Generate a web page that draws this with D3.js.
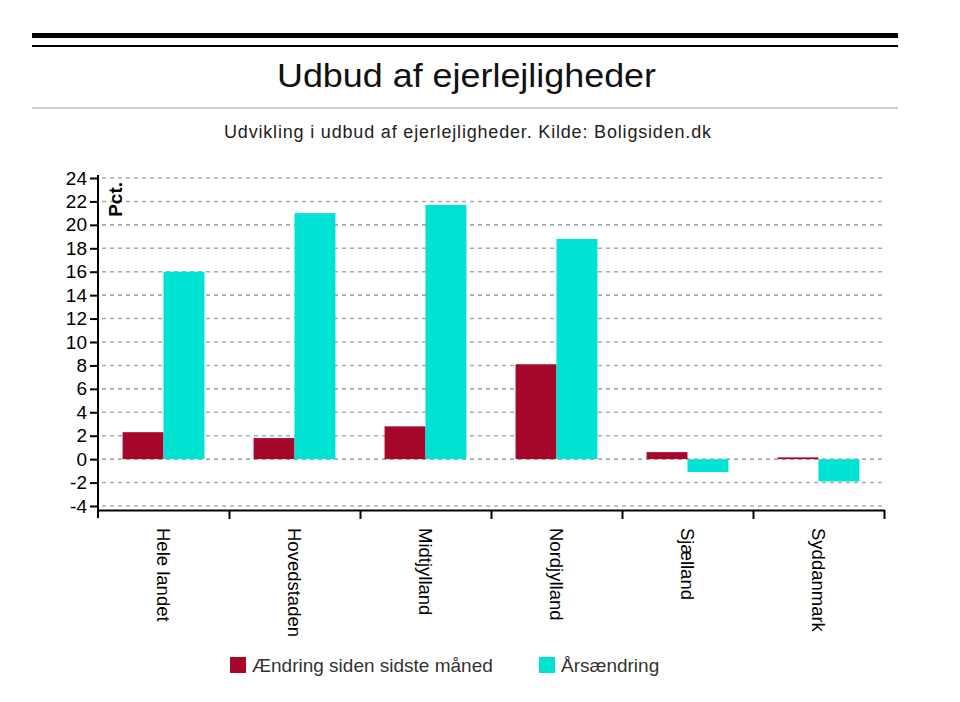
<!DOCTYPE html>
<html>
<head>
<meta charset="utf-8">
<script src="https://cdn.jsdelivr.net/npm/d3@7"></script>
<style>
  body { margin: 0; background: #fff; font-family: "Liberation Sans", Arial, sans-serif; }
  svg text { font-family: "Liberation Sans", Arial, sans-serif; }
</style>
</head>
<body>
<script>
var categories = ["Hele landet", "Hovedstaden", "Midtjylland", "Nordjylland", "Sjælland", "Syddanmark"];
var seriesNames = ["Ændring siden sidste måned", "Årsændring"];
var monthly = [2.3, 1.8, 2.8, 8.1, 0.6, 0.15];
var yearly = [16.0, 21.0, 21.7, 18.8, -1.1, -1.9];
var yTicks = [-4, -2, 0, 2, 4, 6, 8, 10, 12, 14, 16, 18, 20, 22, 24];
var colors = ["#a6082c", "#00e2d3"];

var width = 960, height = 702;
var margin = { top: 178, left: 98, right: 76, bottom: 192 };

var svg = d3.select("body").append("svg")
  .attr("width", width)
  .attr("height", height);

// header lines and titles
svg.append("rect").attr("x", 32).attr("y", 33).attr("width", 866).attr("height", 5).attr("fill", "#000");
svg.append("rect").attr("x", 32).attr("y", 45).attr("width", 866).attr("height", 2).attr("fill", "#000");
svg.append("rect").attr("x", 32).attr("y", 107).attr("width", 866).attr("height", 2).attr("fill", "#d0d0d0");

svg.append("text")
  .attr("x", 277).attr("y", 87)
  .style("font-size", "34px")
  .attr("textLength", 379)
  .attr("lengthAdjust", "spacingAndGlyphs")
  .attr("fill", "#111")
  .text("Udbud af ejerlejligheder");

svg.append("text")
  .attr("x", 224).attr("y", 138)
  .style("font-size", "18px")
  .attr("textLength", 487)
  .attr("lengthAdjust", "spacing")
  .attr("fill", "#222")
  .text("Udvikling i udbud af ejerlejligheder. Kilde: Boligsiden.dk");

var plotRight = 884;
var y = d3.scaleLinear().domain([-4, 24]).range([506, 178]);
var x0 = d3.scaleBand().domain(categories).range([margin.left, plotRight]).paddingInner(0).paddingOuter(0);
var x1 = d3.scaleBand().domain([0, 1]).range([0, x0.bandwidth()]).paddingInner(0).paddingOuter(0.6);

var axisY = 510;

// gridlines
svg.append("g").selectAll("line")
  .data(yTicks)
  .enter().append("line")
  .attr("x1", margin.left + 4).attr("x2", plotRight)
  .attr("y1", function (d) { return y(d); })
  .attr("y2", function (d) { return y(d); })
  .attr("stroke", "#aaa")
  .attr("stroke-width", 1.6)
  .attr("stroke-dasharray", "4,4");

// bars
var data = categories.map(function (c, i) { return { cat: c, vals: [monthly[i], yearly[i]] }; });
var group = svg.append("g").selectAll("g")
  .data(data)
  .enter().append("g")
  .attr("transform", function (d) { return "translate(" + x0(d.cat) + ",0)"; });

group.selectAll("rect")
  .data(function (d) { return d.vals.map(function (v, k) { return { k: k, v: v }; }); })
  .enter().append("rect")
  .attr("x", function (d) { return x1(d.k); })
  .attr("width", x1.bandwidth())
  .attr("y", function (d) { return y(Math.max(0, d.v)); })
  .attr("height", function (d) { return Math.abs(y(d.v) - y(0)); })
  .attr("fill", function (d) { return colors[d.k]; });

// y axis
var yAxis = d3.axisLeft(y).tickValues(yTicks).tickSizeOuter(0)
  .tickFormat(function (d) { return String(d); });
var gy = svg.append("g")
  .attr("transform", "translate(" + margin.left + ",0)")
  .call(yAxis);
gy.select(".domain").remove();
gy.selectAll(".tick line").attr("stroke", "#000").attr("stroke-width", 2).attr("x1", -8).attr("x2", 0);
gy.selectAll(".tick text").style("font-size", "19px").attr("fill", "#000").attr("x", -11);
svg.append("line")
  .attr("x1", margin.left).attr("x2", margin.left)
  .attr("y1", 175).attr("y2", 518)
  .attr("stroke", "#000").attr("stroke-width", 2);

svg.append("text")
  .attr("transform", "translate(122,182) rotate(-90)")
  .attr("text-anchor", "end")
  .style("font-size", "19px")
  .style("font-weight", "bold")
  .attr("fill", "#000")
  .text("Pct.");

// x axis
var xEdges = d3.scaleLinear().domain([0, categories.length]).range([margin.left, plotRight]);
var xAxis = d3.axisBottom(xEdges).ticks(categories.length).tickSize(9).tickSizeOuter(0).tickFormat("");
var gx = svg.append("g")
  .attr("transform", "translate(0," + axisY + ")")
  .call(xAxis);
gx.select(".domain").attr("stroke", "#000").attr("stroke-width", 2);
gx.selectAll(".tick line").attr("stroke", "#000").attr("stroke-width", 2);
gx.selectAll(".tick").filter(function (d) { return d === 0; }).remove();

svg.append("g").selectAll("text")
  .data(categories)
  .enter().append("text")
  .attr("transform", function (d) {
    return "translate(" + (x0(d) + x0.bandwidth() / 2) + "," + (axisY + 18) + ") rotate(90)";
  })
  .attr("dy", "0.35em")
  .attr("text-anchor", "start")
  .style("font-size", "18.5px")
  .attr("fill", "#000")
  .text(function (d) { return d; });

// legend
var legend = svg.append("g").selectAll("g")
  .data(seriesNames)
  .enter().append("g")
  .attr("transform", function (d, i) { return "translate(" + [230, 539][i] + ",657)"; });
legend.append("rect")
  .attr("width", 16).attr("height", 16)
  .attr("fill", function (d, i) { return colors[i]; });
legend.append("text")
  .attr("x", 22).attr("y", 8).attr("dy", "0.35em")
  .style("font-size", "19px")
  .attr("fill", "#333")
  .text(function (d) { return d; });
</script>
</body>
</html>
